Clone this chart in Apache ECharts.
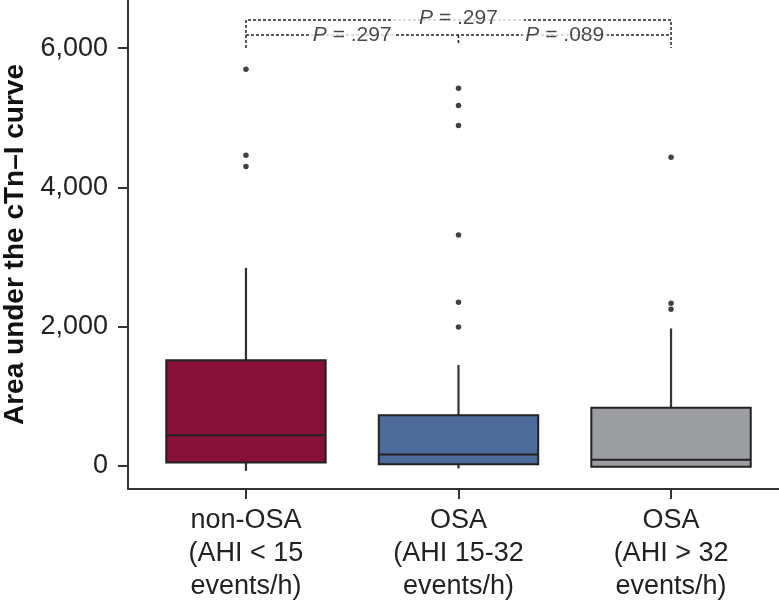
<!DOCTYPE html>
<html><head><meta charset="utf-8">
<script src="https://cdn.jsdelivr.net/npm/echarts@6/dist/echarts.min.js"></script>
<style>html,body{margin:0;padding:0;background:#fff}#c{width:779px;height:603px}</style>
</head><body><div id="c"></div>
<script>
const categories = ['non-OSA\n(AHI < 15\nevents/h)', 'OSA\n(AHI 15-32\nevents/h)', 'OSA\n(AHI > 32\nevents/h)'];
const lowWhisker = [-70, -35, -10];
const q1 = [50, 25, -10];
const median = [440, 165, 90];
const q3 = [1518, 728, 837];
const highWhisker = [2845, 1450, 1975];
const outliers = [[5696, 4461, 4298], [5423, 5174, 4887, 3317, 2350, 1996], [4432, 2336, 2250]];
const boxColors = ['#861038', '#4d6b99', '#9d9ea2'];
const yTicks = [0, 2000, 4000, 6000];
const pLabels = ['P = .297', 'P = .089', 'P = .297'];
const bracketLow = 6001, bracketMid = 6188, bracketHigh = 6403, midTickEnd = 6044;

const FONT = 'Liberation Sans';
const boxData = categories.map((c, i) => [i, lowWhisker[i], q1[i], median[i], q3[i], highWhisker[i]]);
const outlierData = [];
outliers.forEach((arr, i) => arr.forEach(v => outlierData.push([i, v])));
const dash = { color: '#222', width: 1.5, type: [3, 2] };

const chart = echarts.init(document.getElementById('c'));
chart.setOption({
  animation: false,
  backgroundColor: '#fff',
  grid: { left: 128, right: 0, top: 0, bottom: 114, containLabel: false, outerBoundsMode: 'none' },
  xAxis: {
    type: 'value', min: -0.555, max: 2.508,
    axisLine: { show: true, onZero: false, lineStyle: { color: '#333', width: 2 } },
    axisTick: { show: true, customValues: [0, 1, 2], length: 10, lineStyle: { color: '#333', width: 2 } },
    axisLabel: { customValues: [0, 1, 2], formatter: v => categories[Math.round(v)], fontFamily: FONT, fontSize: 27, lineHeight: 33, color: '#222', margin: 15 },
    splitLine: { show: false }
  },
  yAxis: {
    type: 'value', min: -330, max: 6690,
    name: 'Area under the cTn–I curve', nameLocation: 'middle', nameGap: 98,
    nameTextStyle: { fontFamily: FONT, fontSize: 28, fontWeight: 'bold', color: '#111' },
    axisLine: { show: true, onZero: false, lineStyle: { color: '#333', width: 2 } },
    axisTick: { show: true, customValues: yTicks, length: 10, lineStyle: { color: '#333', width: 2 } },
    axisLabel: { customValues: yTicks, formatter: v => v.toLocaleString('en-US'), fontFamily: FONT, fontSize: 27, color: '#222', margin: 20 },
    splitLine: { show: false }
  },
  series: [
    {
      type: 'custom', data: boxData, z: 3,
      renderItem: function (params, api) {
        const x = api.value(0);
        const lo = api.coord([x, api.value(1)]);
        const a = api.coord([x, api.value(2)]);
        const m = api.coord([x, api.value(3)]);
        const b = api.coord([x, api.value(4)]);
        const hi = api.coord([x, api.value(5)]);
        const w = api.size([1, 0])[0] * 0.75;
        const cx = lo[0];
        const ch = [];
        ch.push({ type: 'line', shape: { x1: cx, y1: b[1], x2: cx, y2: hi[1] }, style: { stroke: '#333', lineWidth: 2.2 } });
        if (lo[1] > a[1] + 0.5) ch.push({ type: 'line', shape: { x1: cx, y1: a[1], x2: cx, y2: lo[1] }, style: { stroke: '#333', lineWidth: 2.2 } });
        ch.push({ type: 'rect', shape: { x: cx - w / 2, y: b[1], width: w, height: a[1] - b[1] }, style: { fill: boxColors[params.dataIndex], stroke: '#222', lineWidth: 2 } });
        ch.push({ type: 'line', shape: { x1: cx - w / 2, y1: m[1], x2: cx + w / 2, y2: m[1] }, style: { stroke: '#222', lineWidth: 2 } });
        return { type: 'group', children: ch };
      }
    },
    { type: 'scatter', data: outlierData, symbolSize: 5.5, itemStyle: { color: '#111' }, z: 4 },
    { type: 'line', data: [[0, bracketLow], [0, bracketHigh], [2, bracketHigh], [2, bracketLow]], showSymbol: false, lineStyle: dash, z: 2 },
    { type: 'line', data: [[0, bracketMid], [2, bracketMid]], showSymbol: false, lineStyle: dash, z: 2 },
    { type: 'line', data: [[1, bracketMid], [1, midTickEnd]], showSymbol: false, lineStyle: dash, z: 2 },
    {
      type: 'scatter', symbolSize: 0, z: 5,
      data: [
        { value: [0.5, bracketMid], label: { padding: [0, 3] } },
        { value: [1.5, bracketMid], label: { padding: [0, 3] } },
        { value: [1, bracketHigh], label: { padding: [1, 26], offset: [0, -2] } }
      ],
      label: {
        show: true, position: 'inside', backgroundColor: '#fff',
        formatter: p => '{i|P}' + pLabels[p.dataIndex].slice(1),
        fontFamily: FONT, fontSize: 21, color: '#1a1a1a',
        rich: { i: { fontStyle: 'italic', fontFamily: FONT, fontSize: 21, color: '#1a1a1a' } }
      }
    }
  ]
});
</script></body></html>
